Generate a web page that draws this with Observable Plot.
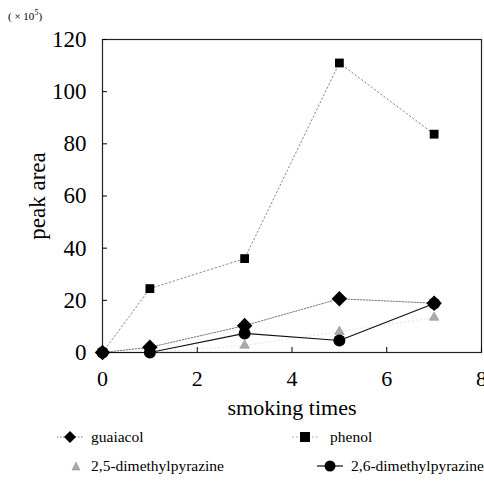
<!DOCTYPE html>
<html><head><meta charset="utf-8">
<script src="https://cdn.jsdelivr.net/npm/d3@7"></script>
<script src="https://cdn.jsdelivr.net/npm/@observablehq/plot@0.6"></script>
<style>
body{margin:0;background:#fff;}
#wrap{position:relative;width:484px;height:482px;font-family:'Liberation Serif','Times New Roman',serif;}
#unit{position:absolute;left:8px;top:8px;font-size:11px;color:#000;font-family:'Liberation Serif',serif;}
#legend{position:absolute;left:0;top:424px;width:484px;font-size:15.5px;font-family:'Liberation Serif',serif;}
.li{position:absolute;display:flex;align-items:center;white-space:nowrap;}
.li span{font-family:'Liberation Serif',serif;white-space:nowrap;}
</style></head>
<body><div id="wrap"><div id="unit">( × 10<sup style="font-size:8px">5</sup>)</div><div id="chart"></div><div id="legend"></div></div>
<script>
const times = [0, 1, 3, 5, 7];
const guaiacol = [0, 2, 10.3, 20.6, 18.9];
const phenol = [0, 24.5, 36, 111, 83.7];
const dmp25 = [0, 0, 2.7, 8, 13.4];
const dmp26 = [0, 0, 7.3, 4.6, 18.8];
const xTicks = [0, 2, 4, 6, 8];
const yTicks = [0, 20, 40, 60, 80, 100, 120];
const seriesNames = ["guaiacol", "phenol", "2,5-dimethylpyrazine", "2,6-dimethylpyrazine"];

const mk = (vals, name) => times.map((t, i) => ({t, v: vals[i], name}));
const dG = mk(guaiacol, seriesNames[0]);
const dP = mk(phenol, seriesNames[1]);
const d25 = mk(dmp25, seriesNames[2]);
const d26 = mk(dmp26, seriesNames[3]);

const chart = Plot.plot({
  width: 484,
  height: 420,
  marginLeft: 102,
  marginRight: 3,
  marginTop: 39,
  marginBottom: 68,
  style: {fontFamily: "'Liberation Serif', serif", fontSize: "22px", color: "#000", background: "#fff"},
  x: {domain: [0, 8]},
  y: {domain: [0, 120]},
  marks: [
    Plot.frame({stroke: "#222", strokeWidth: 1.2}),
    Plot.axisX({ticks: xTicks, tickSize: -5, tickPadding: 23, label: "smoking times", labelAnchor: "center", labelArrow: "none", labelOffset: 62, fontSize: 22, fontFamily: "'Liberation Serif', serif"}),
    Plot.axisY({ticks: yTicks, tickSize: -5, tickPadding: 21, label: "peak area", labelAnchor: "center", labelArrow: "none", labelOffset: 74, fontSize: 23, fontFamily: "'Liberation Serif', serif"}),
    Plot.line(dP, {x: "t", y: "v", stroke: "#888", strokeWidth: 1, strokeDasharray: "1.5,2.5"}),
    Plot.line(dG, {x: "t", y: "v", stroke: "#777", strokeWidth: 1, strokeDasharray: "1.5,1.5"}),
    Plot.line(d25, {x: "t", y: "v", stroke: "#ccc", strokeWidth: 0.6, strokeDasharray: "1,3"}),
    Plot.line(d26, {x: "t", y: "v", stroke: "#111", strokeWidth: 1.2}),
    Plot.dot(d25, {x: "t", y: "v", symbol: "triangle", r: 3.6, fill: "#aaa", stroke: "#888", strokeWidth: 0.5}),
    Plot.dot(dG, {x: "t", y: "v", symbol: "diamond2", r: 7, fill: "#000"}),
    Plot.dot(dP, {x: "t", y: "v", symbol: "square2", r: 5.6, fill: "#000"}),
    Plot.dot(d26, {x: "t", y: "v", symbol: "circle", r: 6, fill: "#000"})
  ]
});
document.getElementById("chart").appendChild(chart);

// legend
const legend = document.getElementById("legend");
const legendItems = [
  {name: seriesNames[0], left: 57, top: 4, sym: "diamond", line: "#777", dash: "1.5,1.5"},
  {name: seriesNames[1], left: 292, top: 4, sym: "square", line: "#999", dash: "1.5,2.5"},
  {name: seriesNames[2], left: 57, top: 33, sym: "triangle", line: null},
  {name: seriesNames[3], left: 317, top: 33, sym: "circle", line: "#111", dash: null}
];
const symPath = {
  diamond: '<path d="M13,3 L19,9 L13,15 L7,9Z" fill="#000"/>',
  square: '<rect x="8" y="4" width="10" height="10" fill="#000"/>',
  triangle: '<path d="M19,5 L23,13 L15,13Z" fill="#aaa" stroke="#888" stroke-width="0.5"/>',
  circle: '<circle cx="13" cy="9" r="5.5" fill="#000"/>'
};
for (const it of legendItems) {
  const div = document.createElement("div");
  div.className = "li";
  div.style.left = it.left + "px";
  div.style.top = it.top + "px";
  const ln = it.line ? `<line x1="0" x2="26" y1="9" y2="9" stroke="${it.line}" stroke-width="1.2" ${it.dash ? `stroke-dasharray="${it.dash}"` : ""}/>` : "";
  div.innerHTML = `<svg width="30" height="18">${ln}${symPath[it.sym]}</svg><span style="margin-left:${it.sym === "square" ? 8 : 4}px">${it.name}</span>`;
  legend.appendChild(div);
}
</script></body></html>
